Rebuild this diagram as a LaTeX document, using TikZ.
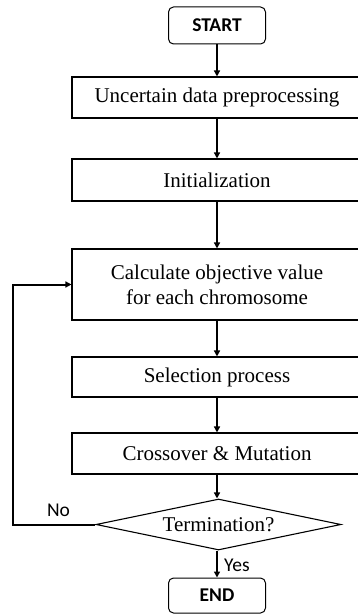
\documentclass[tikz,border=0pt]{standalone}
\usepackage{fontspec}
\setmainfont{Liberation Serif}
\newfontfamily\carlfont{Carlito}
\usetikzlibrary{shapes.geometric,arrows.meta}
\tikzset{
  procbox/.style={draw=black,line width=1.1pt,fill=white,minimum width=290pt,inner sep=0pt,align=center,font=\fontsize{21}{25}\selectfont},
  termbox/.style={draw=black,line width=1pt,rounded corners=5pt,minimum width=97pt,inner sep=0pt,font=\carlfont\bfseries\fontsize{19.5}{22}\selectfont},
  decbox/.style={draw=black,line width=1.1pt,shape=diamond,aspect=4.8,minimum width=245pt,minimum height=51pt,inner sep=0pt,font=\fontsize{21}{25}\selectfont},
  flow/.style={line width=1.6pt,-{Triangle[length=6pt,width=6pt]}},
  backflow/.style={line width=2pt,-{Triangle[length=6pt,width=6pt]}},
  lbl/.style={font=\carlfont\fontsize{19.5}{22}\selectfont,inner sep=0pt}
}
\begin{document}
\begin{tikzpicture}[x=1pt,y=-1pt]
\useasboundingbox (0,0) rectangle (357,615);
\node[termbox,minimum height=37pt] (start) at (217,25.5) {START};
\node[procbox,minimum height=41pt] (b1) at (217,97.5) {Uncertain data preprocessing};
\node[procbox,minimum height=42pt] (b2) at (217,180) {Initialization};
\node[procbox,minimum height=71pt] (b3) at (217,284.5) {Calculate objective value\\for each chromosome};
\node[procbox,minimum height=40pt] (b4) at (217,377) {Selection process};
\node[procbox,minimum height=41pt] (b5) at (217,453.5) {Crossover \& Mutation};
\node[decbox] (dec) at (218.5,524.5) {Termination?};
\node[termbox,minimum height=35pt] (end) at (217,595.5) {END};
\coordinate (corner) at (13,524.5);
\draw[flow] (start) -- (b1);
\draw[flow] (b1) -- (b2);
\draw[flow] (b2) -- (b3);
\draw[flow] (b3) -- (b4);
\draw[flow] (b4) -- (b5);
\draw[flow] (b5.south) -- (b5.south |- dec.north);
\draw[flow] (dec.south -| end.north) -- (end.north);
\draw[backflow] (dec.west) -- (corner) |- (b3.west);
\node[lbl] (no) at (58.5,510) {No};
\node[lbl,anchor=west] (yes) at (224,565) {Yes};
\end{tikzpicture}
\end{document}
